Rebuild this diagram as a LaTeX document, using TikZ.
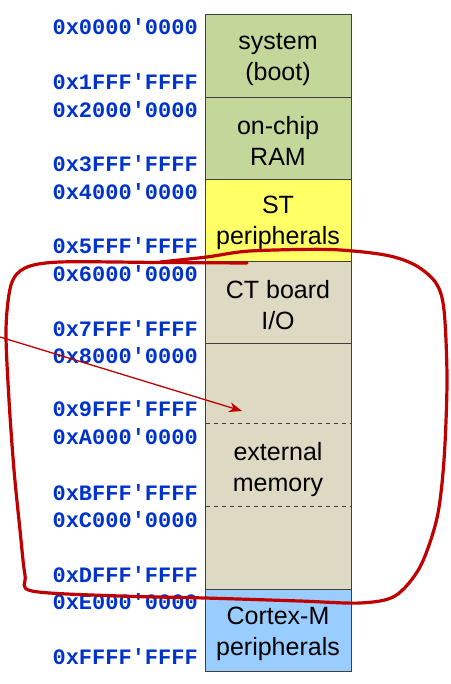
\documentclass[tikz,border=0pt]{standalone}
\usepackage{fontspec}
\usetikzlibrary{arrows.meta}
\newfontfamily\boxfont{Liberation Sans}
\newfontfamily\addrfont[Ligatures=TeXOff]{Liberation Mono}
\definecolor{addrblue}{HTML}{0033CC}
\definecolor{seggreen}{HTML}{C4D79B}
\definecolor{segyellow}{HTML}{FFFF66}
\definecolor{segbeige}{HTML}{DDD9C3}
\definecolor{segblue}{HTML}{99CCFF}
\definecolor{segline}{HTML}{3F3F3F}
\definecolor{penred}{HTML}{C00000}
\tikzset{
  seg/.style={draw=segline, line width=1pt, minimum width=146pt, inner sep=0pt, anchor=north},
  segtext/.style={inner sep=0pt, font=\boxfont\fontsize{25}{31}\selectfont, align=center, text=black},
  addr/.style={anchor=base east, inner sep=0pt, text=addrblue, font=\addrfont\bfseries\fontsize{22}{22}\selectfont},
  dashline/.style={draw=segline, line width=1pt, dash pattern=on 4.5pt off 3.5pt},
  loopline/.style={draw=penred, line width=3.2pt, line cap=round, line join=round},
  pointer/.style={draw=penred, line width=1.3pt, -{Stealth[length=13pt,width=10pt]}}
}
\begin{document}
\begin{tikzpicture}[x=1pt,y=-1pt]
\useasboundingbox (0,0) rectangle (450,684);
% segments
\node[seg, fill=seggreen, minimum height=82.2pt] (sys) at (278,14.5) {};
\node[seg, fill=seggreen, minimum height=82pt] (ram) at (278,96.7) {};
\node[seg, fill=segyellow, minimum height=82pt] (st) at (278,178.7) {};
\node[seg, fill=segbeige, minimum height=82.3pt] (ct) at (278,260.7) {};
\node[seg, fill=segbeige, minimum height=246pt] (ext) at (278,343) {};
\node[seg, fill=segblue, minimum height=82.3pt] (cm) at (278,589) {};
\draw[dashline] (205.5,423) -- (350.5,423);
\draw[dashline] (205.5,506.7) -- (350.5,506.7);
\node[segtext] (systext) at ([yshift=-3pt]sys.center) {system\\(boot)};
\node[segtext] (ramtext) at ([yshift=-3pt]ram.center) {on-chip\\RAM};
\node[segtext] (sttext) at ([yshift=-3pt]st.center) {ST\\peripherals};
\node[segtext] (cttext) at ([yshift=-3pt]ct.center) {CT board\\I/O};
\node[segtext] (exttext) at ([yshift=-3pt]ext.center) {external\\memory};
\node[segtext] (cmtext) at ([yshift=-3pt]cm.center) {Cortex-M\\peripherals};
% address labels
\node[addr] (a0) at (198,35) {0x0000'0000};
\node[addr] (a1) at (198,90) {0x1FFF'FFFF};
\node[addr] (a2) at (198,117.2) {0x2000'0000};
\node[addr] (a3) at (198,172) {0x3FFF'FFFF};
\node[addr] (a4) at (198,199.2) {0x4000'0000};
\node[addr] (a5) at (198,254) {0x5FFF'FFFF};
\node[addr] (a6) at (198,281.2) {0x6000'0000};
\node[addr] (a7) at (198,336.3) {0x7FFF'FFFF};
\node[addr] (a8) at (198,363.5) {0x8000'0000};
\node[addr] (a9) at (198,416.5) {0x9FFF'FFFF};
\node[addr] (a10) at (198,444.5) {0xA000'0000};
\node[addr] (a11) at (198,500) {0xBFFF'FFFF};
\node[addr] (a12) at (198,527.2) {0xC000'0000};
\node[addr] (a13) at (198,582.3) {0xDFFF'FFFF};
\node[addr] (a14) at (198,609.5) {0xE000'0000};
\node[addr] (a15) at (198,664.6) {0xFFFF'FFFF};
% freehand loop
\draw[loopline] plot[smooth, tension=0.5] coordinates {
  (247,263) (160,262.5) (60,262) (25,268) (11,285) (6,330) (9,400) (14,470)
  (20,530) (25,575) (32,591) (120,596) (205,598) (300,601) (360,603) (395,596)
  (420,567) (437,518) (444,460) (447,380) (444,310) (436,283) (415,265)
  (385,255) (330,249.5) (250,251) (207,257) (160,262)};
% pointer arrow
\coordinate (pstart) at (0,337);
\coordinate (pend) at (242,411);
\draw[pointer] (pstart) -- (pend);
\end{tikzpicture}
\end{document}
